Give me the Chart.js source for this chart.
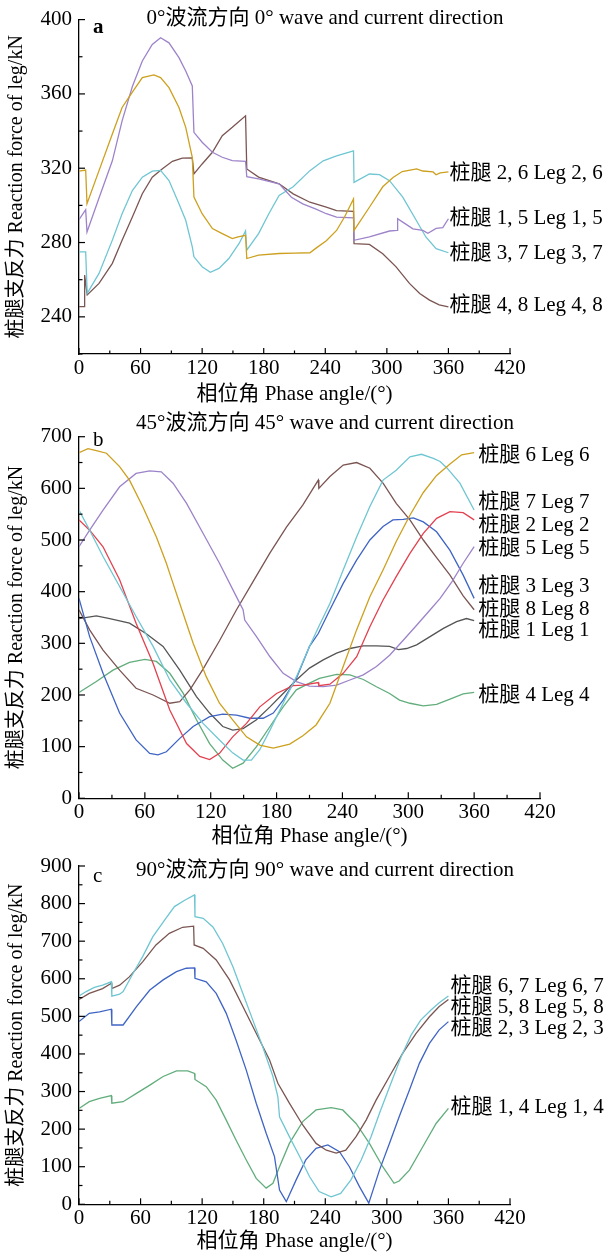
<!DOCTYPE html>
<html>
<head>
<meta charset="utf-8">
<script src="https://cdn.jsdelivr.net/npm/chart.js@4.4.1/dist/chart.umd.min.js"></script>
<style>
    body { margin: 0; background: #fff; width: 608px; height: 1257px; position: relative; overflow: hidden; }
    canvas { position: absolute; left: 0; }
</style>
</head>
<body>
<canvas id="chartA" width="608" height="420" style="top:0px"></canvas>
<canvas id="chartB" width="608" height="450" style="top:405px"></canvas>
<canvas id="chartC" width="608" height="412" style="top:845px"></canvas>
<script>
// ---- axes ----
const xTicks = [0, 60, 120, 180, 240, 300, 360, 420];
const yTicksA = [240, 280, 320, 360, 400];
const yTicksB = [0, 100, 200, 300, 400, 500, 600, 700];
const yTicksC = [0, 100, 200, 300, 400, 500, 600, 700, 800, 900];

// ---- data: panel a, 0° wave and current direction ----
const aPhase26 = [0, 6.5, 7.8, 19.5, 32.5, 42, 52, 61.7, 73, 79.5, 87.7, 97.4, 104, 110.4, 112, 120, 130, 139.6, 149.4, 155, 162.3, 163.5, 175, 195, 210, 225, 231, 241, 251, 259, 267.5, 268, 283, 296, 306, 315, 329, 335, 345, 348, 352, 360];
const aLeg26 = [318.4, 319, 300.9, 318.7, 338.4, 352.7, 361, 368.8, 370.2, 368.8, 363.4, 352.7, 342, 325.9, 304.5, 295.5, 287.5, 284.8, 282.1, 283, 283.9, 271.4, 273.2, 274.1, 274.3, 274.5, 277, 281, 286.5, 294, 303.5, 286.5, 299, 310, 315, 318.2, 319.6, 318.5, 318, 316.5, 317.5, 318];
const aPhase15 = [0, 6.5, 7.8, 19.5, 32.5, 42, 52, 61.7, 71.4, 79.5, 87.7, 97.4, 104, 110.4, 112, 120, 130, 139.6, 149.4, 162.3, 163.5, 175, 195, 207, 218, 231, 241, 251, 267.5, 268, 283, 302.6, 310, 310.5, 315.5, 325.4, 335, 340, 348, 354.5, 360];
const aLeg15 = [292.3, 297.7, 285.7, 304, 324, 345.5, 364, 377.7, 386.6, 390.2, 387.5, 379.5, 372.3, 364.3, 339.3, 334, 328.6, 325.9, 324.1, 323.7, 315.5, 314.3, 311.6, 304.4, 300.8, 298, 295.5, 293.7, 293.3, 281.2, 283, 286.2, 286.5, 292.8, 291, 287.4, 286.5, 285, 287.6, 288, 292.8];
const aPhase37 = [0, 6.5, 8, 19.5, 32.5, 42, 52, 61.7, 71.4, 79.5, 87.7, 97.4, 104, 110.4, 112, 120, 128, 136.4, 146, 156, 162.3, 163.5, 175, 185, 195, 208.7, 225, 238, 251, 267.5, 268, 283, 292.8, 302.6, 315.5, 328.6, 338, 348, 360];
const aLeg37 = [275, 275, 252.7, 263.4, 281.3, 295.5, 308, 315.2, 318.4, 318.8, 313.4, 300.9, 292, 277.7, 272.3, 267, 264, 266.1, 271.4, 279.5, 286.3, 275.9, 284.8, 295.5, 305.4, 310, 318.7, 324, 326.7, 329.4, 312.4, 316.9, 316.5, 313.3, 304.4, 292, 283, 276.7, 274.5];
const aPhase48 = [0, 4.9, 5.5, 8, 19.5, 32.5, 42, 52, 61.7, 71.4, 81, 91, 100.6, 110.4, 112, 120, 130, 139.6, 149.4, 162.3, 163.5, 175, 195, 208.7, 225, 241, 251, 267.5, 268, 283, 296, 309, 322, 332, 341.6, 351, 360];
const aLeg48 = [245.5, 245.5, 262.5, 251.8, 258, 268.8, 281.2, 293.7, 306.3, 315.2, 319.6, 323.7, 325.4, 325.5, 317, 322.3, 328.6, 337.5, 342, 348.2, 319.6, 315.2, 311.6, 306.2, 301.7, 299, 297.2, 296.8, 279.4, 279, 274, 266.9, 258, 252.6, 249, 246.4, 245.4];

// ---- data: panel b, 45° ----
const bPhase6 = [0, 8.2, 15.8, 25, 37, 46, 58, 70.5, 79.6, 82.7, 91.8, 104, 116, 128, 140, 152.6, 164.7, 177, 192, 204, 216, 228.6, 240.7, 252.9, 265, 277, 289, 301.5, 313.7, 325.8, 338, 348.6, 360];
const bLeg6 = [669, 677, 673, 668, 642, 616, 565, 506, 455, 435, 377, 300, 235, 184, 152, 119, 103, 97, 105, 121, 142, 184, 255, 326, 390, 442, 497, 548, 592, 625, 647, 665, 669];
const bPhase7 = [0, 9.7, 21.9, 37, 52, 67.5, 82.7, 98, 113, 128, 140, 149.5, 157, 164.7, 174, 186, 198, 210, 219, 228.6, 240.7, 252.9, 265, 277, 289, 301.5, 312, 322.8, 329, 335, 347, 360];
const bLeg7 = [558, 519, 468, 410, 352, 294, 229, 184, 145, 113, 88, 74, 74, 94, 132, 184, 235, 294, 335, 377, 442, 506, 565, 616, 635, 661, 666, 658, 652, 640, 610, 558];
const bPhase2 = [0, 9.7, 21.9, 37, 52, 67.5, 82.7, 98, 110, 119, 128, 140, 152.6, 164.7, 180, 195, 204, 218, 218.5, 228.6, 240.7, 253, 265, 277, 289, 301.5, 313.7, 325.8, 338, 350, 360];
const bLeg2 = [539, 519, 487, 423, 339, 261, 171, 106, 81, 75, 87, 119, 145, 177, 203, 218, 219, 224, 218, 221, 242, 274, 332, 384, 429, 474, 513, 542, 555, 553, 539];
const bPhase5 = [0, 9.7, 21.9, 37, 52, 64.4, 75, 85.7, 98, 113, 128, 143.5, 149.5, 151, 161.7, 174, 186, 198, 210, 222.5, 234.7, 246.8, 259, 271, 283, 295.4, 307.6, 320, 329, 340, 350, 360];
const bLeg5 = [487, 519, 558, 603, 629, 634, 632, 610, 571, 513, 455, 390, 365, 345, 313, 274, 242, 226, 217, 216, 219, 229, 239, 255, 277, 306, 335, 365, 387, 420, 455, 487];
const bPhase3 = [0, 9.7, 21.9, 37, 52, 64.4, 72, 79.6, 91.8, 104, 119, 131, 143.5, 155.6, 167.8, 177, 186, 198, 210, 218, 228.6, 240.7, 252.9, 265, 277, 286, 295.4, 304.6, 313.7, 325.8, 338, 350, 360];
const bLeg3 = [387, 313, 242, 165, 113, 87, 84, 90, 116, 139, 158, 163, 161, 155, 155, 165, 190, 232, 294, 319, 365, 416, 461, 500, 526, 539, 540, 543, 535, 516, 480, 432, 387];
const bPhase8 = [0, 9.7, 21.9, 37, 52, 67.5, 82.7, 91.8, 101, 113, 128, 143.5, 158.7, 174, 189, 204, 218, 218.5, 228.6, 240.7, 252.9, 265, 277, 289, 301.5, 313.7, 325.8, 338, 350, 360];
const bLeg8 = [365, 326, 287, 248, 213, 200, 184, 187, 210, 250, 305, 365, 420, 475, 525, 568, 616, 600, 623, 645, 650, 639, 610, 571, 539, 500, 466, 432, 392, 365];
const bPhase1 = [0, 15.8, 28, 46, 61, 76.6, 91.8, 107, 119, 131, 140, 149.5, 161.7, 174, 186, 198, 210, 222.5, 234.7, 246.8, 259, 271, 283, 291, 298.5, 307.6, 319.8, 332, 344, 353, 360];
const bLeg1 = [348, 353, 348, 339, 319, 294, 248, 197, 165, 139, 132, 135, 152, 177, 203, 229, 252, 268, 281, 290, 295, 295, 294, 288, 290, 297, 313, 329, 342, 348, 344];
const bPhase4 = [0, 15.8, 31, 46, 60, 70.5, 82.7, 95, 107, 119, 131, 140, 149.5, 161.7, 174, 186, 198, 210, 219, 234.7, 246.8, 259, 271, 283, 292, 301.5, 313.7, 325.8, 338, 350, 360];
const bLeg4 = [205, 226, 248, 263, 269, 265, 242, 203, 152, 106, 74, 58, 68, 100, 139, 177, 210, 223, 232, 240, 239, 230, 216, 203, 190, 184, 179, 182, 192, 202, 205];

// ---- data: panel c, 90° ----
const cPhase67 = [0, 7, 15, 23, 31.5, 32, 39.6, 43, 52.6, 62, 72, 83.4, 93, 103, 112.6, 113, 121, 130.5, 140, 150, 159.7, 169.4, 179, 189, 193.8, 195.4, 205, 215, 224.6, 234, 245.7, 255, 265, 275, 284.6, 294, 304, 314, 323.6, 333, 343, 351, 360];
const cLeg67 = [554, 566, 577, 583, 592, 554, 559, 566, 614, 659, 712, 756, 792, 809, 823, 765, 761, 738, 694, 632, 561, 490, 419, 340, 286, 233, 180, 127, 74, 34, 20, 29, 65, 118, 180, 251, 322, 393, 450, 490, 517, 536, 554];
const cPhase58 = [0, 10, 23, 31.5, 32, 39.6, 49, 62, 75, 88, 101, 111.7, 112.2, 121, 133.7, 146.7, 159.7, 172.7, 185.7, 193.8, 205, 218, 231, 241, 250.6, 260, 270, 279.8, 289.5, 302.5, 315.5, 328.5, 341.5, 351, 360];
const cLeg58 = [545, 561, 574, 588, 574, 583, 605, 645, 690, 721, 737, 740, 690, 681, 650, 597, 526, 455, 384, 322, 269, 211, 162, 144, 136, 144, 180, 224, 277, 340, 402, 455, 499, 526, 545];
const cPhase23 = [0, 10, 20, 31.5, 32, 43, 56, 69, 82, 95, 104.5, 112.6, 113, 124, 133.7, 143.5, 153, 163, 172.7, 182.4, 190.5, 195.4, 202, 211.6, 221, 231, 242.5, 253.8, 263.5, 273.3, 282.4, 292.8, 302.5, 312, 322, 331.7, 341.5, 351, 360];
const cLeg23 = [486, 508, 512, 519, 477, 477, 526, 570, 597, 619, 628, 629, 601, 592, 561, 508, 437, 357, 269, 189, 127, 38, 7, 65, 118, 149, 158, 140, 100, 47, 3, 91, 162, 233, 304, 375, 428, 464, 486];
const cPhase14 = [0, 10, 20, 31.5, 32, 43, 56, 69, 82, 95, 106, 112.6, 113, 124, 133.7, 143.5, 153, 163, 172.7, 182.4, 189, 195.4, 205, 218, 231, 245.7, 257, 270, 283, 296, 307, 312, 322, 335, 348, 360];
const cLeg14 = [255, 273, 282, 289, 269, 273, 295, 317, 340, 355, 355, 348, 332, 313, 277, 224, 171, 118, 69, 43, 56, 100, 162, 220, 251, 257, 251, 215, 162, 100, 56, 62, 91, 153, 215, 255];

// right-hand labels and the value each one is centred on
const labelsA = ['桩腿 2, 6 Leg 2, 6', '桩腿 1, 5 Leg 1, 5', '桩腿 3, 7 Leg 3, 7', '桩腿 4, 8 Leg 4, 8'];
const labelAtA = [317, 293, 274, 246];
const labelsB = ['桩腿 6 Leg 6', '桩腿 7 Leg 7', '桩腿 2 Leg 2', '桩腿 5 Leg 5', '桩腿 3 Leg 3', '桩腿 8 Leg 8', '桩腿 1 Leg 1', '桩腿 4 Leg 4'];
const labelAtB = [664.5, 572, 527.7, 484, 411, 366, 324, 200];
const labelsC = ['桩腿 6, 7 Leg 6, 7', '桩腿 5, 8 Leg 5, 8', '桩腿 2, 3 Leg 2, 3', '桩腿 1, 4 Leg 1, 4'];
const labelAtC = [580.6, 523, 468, 258];

const gold = '#cda01e', purple = '#9d83c9', cyan = '#6fc6d2', brown = '#7a5552';
const red = '#e2414f', blue = '#3e64c4', gray = '#555555', green = '#62ad7c';

const FONT = "'Liberation Serif', 'Noto Sans CJK SC', serif";
const FS = 21;
const XH = 52;

function series(phase, vals, color) {
    return {
        data: phase.map((p, i) => ({ x: p, y: vals[i] })),
        borderColor: color,
        borderWidth: 1.3,
        pointRadius: 0,
        fill: false,
        tension: 0
    };
}

// inward ticks, panel letter, title and leg labels
const decoPlugin = {
    id: 'deco',
    afterDraw(chart, args, opts) {
        const { ctx, chartArea: area } = chart;
        const x = chart.scales.x, y = chart.scales.y;
        ctx.save();
        ctx.strokeStyle = '#000';
        ctx.lineWidth = 1.2;
        for (let v = 0; v <= 420; v += 30) {
            const px = x.getPixelForValue(v);
            const len = v % 60 === 0 ? 6 : 3.5;
            ctx.beginPath(); ctx.moveTo(px, area.bottom); ctx.lineTo(px, area.bottom - len); ctx.stroke();
        }
        for (let v = y.min; v <= y.max + 0.01; v += opts.yMinor) {
            const py = y.getPixelForValue(v);
            const len = opts.yTicks.includes(v) ? 6 : 3.5;
            ctx.beginPath(); ctx.moveTo(area.left, py); ctx.lineTo(area.left + len, py); ctx.stroke();
        }
        ctx.fillStyle = '#000';
        ctx.textBaseline = 'alphabetic';
        ctx.textAlign = 'left';
        ctx.font = (opts.letterBold ? 'bold ' : '') + FS + 'px ' + FONT;
        ctx.fillText(opts.letter, area.left + 14, area.top + opts.letterDy);
        ctx.font = FS + 'px ' + FONT;
        ctx.textAlign = 'center';
        ctx.textBaseline = 'middle';
        ctx.fillText(opts.title, area.left + 246, area.top + opts.titleDy);
        ctx.textAlign = 'left';
        const lx = x.getPixelForValue(360) + opts.labelGap;
        opts.labels.forEach((t, i) => ctx.fillText(t, lx, y.getPixelForValue(opts.labelAt[i])));
        ctx.restore();
    }
};

function makePanel(id, cfg) {
    const canvas = document.getElementById(id);
    const top = parseFloat(canvas.style.top);
    const h = canvas.height;
    return new Chart(canvas, {
        type: 'line',
        data: { datasets: cfg.datasets },
        options: {
            responsive: false,
            animation: false,
            devicePixelRatio: 1,
            layout: {
                padding: {
                    left: 0,
                    top: cfg.plotTop - top,
                    right: 608 - cfg.plotRight,
                    bottom: h - (cfg.plotBottom - top) - XH
                }
            },
            plugins: {
                legend: { display: false },
                tooltip: { enabled: false },
                deco: cfg.deco
            },
            scales: {
                x: {
                    type: 'linear',
                    min: 0, max: 420,
                    afterFit: (s) => { s.height = XH; },
                    afterBuildTicks: (s) => { s.ticks = xTicks.map(v => ({ value: v })); },
                    ticks: { color: '#000', font: { family: FONT, size: FS }, padding: 2, maxRotation: 0 },
                    grid: { drawOnChartArea: false, drawTicks: false },
                    border: { color: '#000', width: 1.3 },
                    title: {
                        display: true, text: '相位角 Phase angle/(°)', color: '#000',
                        font: { family: FONT, size: FS }, padding: { top: 0, bottom: cfg.xTitlePad }
                    }
                },
                y: {
                    type: 'linear',
                    min: cfg.yMin, max: cfg.yMax,
                    afterFit: (s) => { s.width = 79; },
                    afterBuildTicks: (s) => { s.ticks = cfg.yTicks.map(v => ({ value: v })); },
                    ticks: { color: '#000', font: { family: FONT, size: FS }, padding: 7 },
                    grid: { drawOnChartArea: false, drawTicks: false },
                    border: { color: '#000', width: 1.3 },
                    title: {
                        display: true, text: '桩腿支反力 Reaction force of leg/kN', color: '#000',
                        font: { family: FONT, size: 20 }, padding: { top: 5, bottom: 0 }
                    }
                }
            }
        },
        plugins: [decoPlugin]
    });
}

makePanel('chartA', {
    plotTop: 18.3, plotBottom: 354, plotRight: 510,
    yMin: 220, yMax: 400, yTicks: yTicksA, xTitlePad: -1,
    datasets: [
        series(aPhase26, aLeg26, gold),
        series(aPhase15, aLeg15, purple),
        series(aPhase37, aLeg37, cyan),
        series(aPhase48, aLeg48, brown)
    ],
    deco: {
        yTicks: yTicksA, yMinor: 20, letter: 'a', letterBold: true, letterDy: 13,
        title: '0°波流方向 0° wave and current direction', titleDy: -1,
        labels: labelsA, labelAt: labelAtA, labelGap: 1
    }
});

makePanel('chartB', {
    plotTop: 436.7, plotBottom: 798.3, plotRight: 540,
    yMin: 0, yMax: 700, yTicks: yTicksB, xTitlePad: 1,
    datasets: [
        series(bPhase6, bLeg6, gold),
        series(bPhase7, bLeg7, cyan),
        series(bPhase2, bLeg2, red),
        series(bPhase5, bLeg5, purple),
        series(bPhase3, bLeg3, blue),
        series(bPhase8, bLeg8, brown),
        series(bPhase1, bLeg1, gray),
        series(bPhase4, bLeg4, green)
    ],
    deco: {
        yTicks: yTicksB, yMinor: 50, letter: 'b', letterBold: false, letterDy: 9,
        title: '45°波流方向 45° wave and current direction', titleDy: -13,
        labels: labelsB, labelAt: labelAtB, labelGap: 4
    }
});

makePanel('chartC', {
    plotTop: 866, plotBottom: 1204.3, plotRight: 510,
    yMin: 0, yMax: 900, yTicks: yTicksC, xTitlePad: 2,
    datasets: [
        series(cPhase67, cLeg67, cyan),
        series(cPhase58, cLeg58, brown),
        series(cPhase23, cLeg23, blue),
        series(cPhase14, cLeg14, green)
    ],
    deco: {
        yTicks: yTicksC, yMinor: 50, letter: 'c', letterBold: false, letterDy: 16,
        title: '90°波流方向 90° wave and current direction', titleDy: 4,
        labels: labelsC, labelAt: labelAtC, labelGap: 2
    }
});
</script>
</body>
</html>
